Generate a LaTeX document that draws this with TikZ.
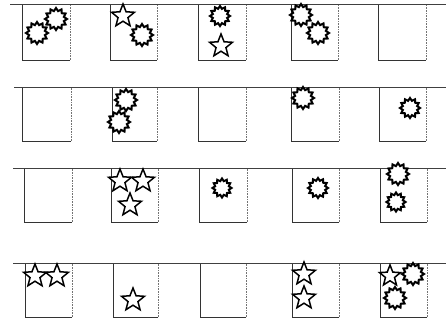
\documentclass[tikz,border=0pt]{standalone}
\usetikzlibrary{shapes.geometric}
\begin{document}
\begin{tikzpicture}[x=1pt,y=-1pt,
  sun/.style={star, star points=12, star point ratio=1.35, minimum size=22pt, inner sep=0pt, draw=black, fill=white, line width=2pt, line join=miter},
  fivestar/.style={star, star points=5, star point ratio=2.3, minimum size=24pt, inner sep=0pt, draw=black, fill=white, line width=1.5pt},
  wire/.style={draw=black!75, line width=1pt},
  flag/.style={draw=black!80, line width=0.8pt},
  flagside/.style={draw=black!55, line width=0.6pt, densely dotted}]
\useasboundingbox (0,0) rectangle (446,320);
% rows: top, bottom, line start
\foreach \t/\b/\s/\xa/\xb/\xc/\xd/\xe/\xf/\xg/\xh/\xi/\xj/\r in
  {5/60/10/22/70/110/157/198/246/291/338/378/426/1,
   88/141/14/22/71/112/157/198/246/291/339/379/426/2,
   169/222/13/24/72/111/158/199/247/292/339/380/427/3,
   263/317/13/25/72/113/158/200/246/292/339/380/427/4}{
  \foreach \l/\rr/\k in {\xa/\xb/1,\xc/\xd/2,\xe/\xf/3,\xg/\xh/4,\xi/\xj/5}{
    \coordinate (tl\r\k) at (\l,\t);
    \coordinate (bl\r\k) at (\l,\b);
    \coordinate (br\r\k) at (\rr,\b);
    \coordinate (tr\r\k) at (\rr,\t);
    \draw[flag] (tl\r\k) -- (bl\r\k) -- (br\r\k);
    \draw[flagside] (br\r\k) -- (tr\r\k);
  }
  \coordinate (ls\r) at (\s,\t);
  \coordinate (le\r) at (446,\t);
  \draw[wire] (ls\r) -- (le\r);
}
% row 1
\node[sun] (a1) at (37,33) {};
\node[sun] (a2) at (56,19) {};
\node[fivestar] (a3) at (123,16) {};
\node[sun] (a4) at (142,35) {};
\node[sun, minimum size=20pt] (a5) at (220,16) {};
\node[fivestar] (a6) at (221,46) {};
\node[sun] (a7) at (301,15) {};
\node[sun] (a8) at (318,33) {};
% row 2
\node[sun] (b1) at (126,100) {};
\node[sun] (b2) at (119,122) {};
\node[sun] (b3) at (303,98) {};
\node[sun, minimum size=20pt] (b4) at (410,108) {};
% row 3
\node[fivestar] (c1) at (120,181) {};
\node[fivestar] (c2) at (143,181) {};
\node[fivestar] (c3) at (130,205) {};
\node[sun, minimum size=19pt] (c4) at (222,188) {};
\node[sun, minimum size=20pt] (c5) at (318,188) {};
\node[sun] (c6) at (398,174) {};
\node[sun, minimum size=19pt] (c7) at (396,202) {};
% row 4
\node[fivestar] (d1) at (35,276) {};
\node[fivestar] (d2) at (57,276) {};
\node[fivestar] (d3) at (133,300) {};
\node[fivestar] (d4) at (304,274) {};
\node[fivestar] (d5) at (304,298) {};
\node[fivestar, minimum size=22pt] (d6) at (390,276) {};
\node[sun] (d7) at (413,274) {};
\node[sun] (d8) at (395,298) {};
\end{tikzpicture}
\end{document}
